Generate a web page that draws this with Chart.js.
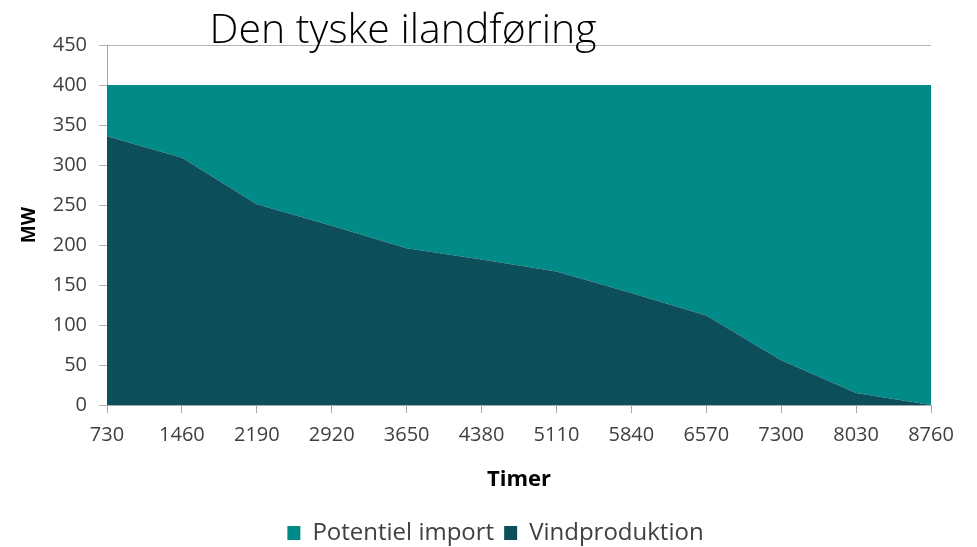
<!DOCTYPE html>
<html>
<head>
<meta charset="utf-8">
<script src="https://cdn.jsdelivr.net/npm/chart.js@4/dist/chart.umd.min.js"></script>
<style>
  body { margin: 0; background: #fff; }
</style>
</head>
<body>
<canvas id="areaChart" width="977" height="547"></canvas>
<script>
const hours = ['730', '1460', '2190', '2920', '3650', '4380', '5110', '5840', '6570', '7300', '8030', '8760'];
const vindproduktion = [336, 309, 251, 224, 196, 182, 167, 140, 112, 56, 15, 0];
const potentielImport = [64, 91, 149, 176, 204, 218, 233, 260, 288, 344, 385, 400];
const yTicks = [0, 50, 100, 150, 200, 250, 300, 350, 400, 450];

// title sits over the top of the plot, so draw it by hand
const titlePlugin = {
  id: 'overlayTitle',
  afterLayout(chart) {
    // legend is centred on the whole canvas in the original, not left of the right padding
    chart.legend.left += 30;
    chart.legend.right += 30;
  },
  afterDraw(chart) {
    const c = chart.ctx;
    c.save();
    c.font = '300 41px "Open Sans"';
    c.fillStyle = '#000';
    c.textAlign = 'center';
    c.textBaseline = 'alphabetic';
    c.fillText('Den tyske ilandføring', 403, 43);
    c.restore();
  }
};

const ctx = document.getElementById('areaChart').getContext('2d');

new Chart(ctx, {
  type: 'line',
  data: {
    labels: hours,
    datasets: [
      {
        label: 'Vindproduktion',
        data: vindproduktion,
        backgroundColor: '#0c4f5b',
        borderWidth: 0,
        pointRadius: 0,
        fill: 'origin',
        tension: 0
      },
      {
        label: 'Potentiel import',
        data: potentielImport,
        backgroundColor: '#008b89',
        borderWidth: 0,
        pointRadius: 0,
        fill: '-1',
        tension: 0
      }
    ]
  },
  options: {
    responsive: false,
    animation: false,
    layout: { padding: { top: 45, right: 46, left: 0, bottom: -8 } },
    plugins: {
      title: { display: false },
      tooltip: { enabled: false },
      legend: {
        position: 'bottom',
        reverse: true,
        labels: {
          font: { family: 'Open Sans', size: 24 },
          color: '#404040',
          boxWidth: 13,
          boxHeight: 14,
          padding: 10
        }
      }
    },
    scales: {
      x: {
        offset: false,
        grid: { drawOnChartArea: false, color: '#a6a6a6', tickLength: 8 },
        border: { color: '#a6a6a6' },
        ticks: {
          font: { family: 'Open Sans', size: 20 },
          color: '#404040',
          padding: 10,
          maxRotation: 0,
          autoSkip: false
        },
        title: {
          display: true,
          text: 'Timer',
          font: { family: 'Open Sans', size: 22, weight: 'bold' },
          color: '#000',
          padding: { top: 0, bottom: 18 }
        },
        afterFit(scale) { scale.height = 106; }
      },
      y: {
        stacked: true,
        min: 0,
        max: 450,
        afterBuildTicks(scale) { scale.ticks = yTicks.map(v => ({ value: v })); },
        grid: { color: '#b4b4b4', tickLength: 8 },
        border: { color: '#a6a6a6' },
        ticks: {
          font: { family: 'Open Sans', size: 20 },
          color: '#404040',
          padding: 12
        },
        title: {
          display: true,
          text: 'MW',
          font: { family: 'Open Sans', size: 19, weight: 'bold' },
          color: '#000',
          padding: { top: 18, bottom: 0 }
        },
        afterFit(scale) { scale.width = 107; }
      }
    }
  },
  plugins: [titlePlugin]
});
</script>
</body>
</html>
